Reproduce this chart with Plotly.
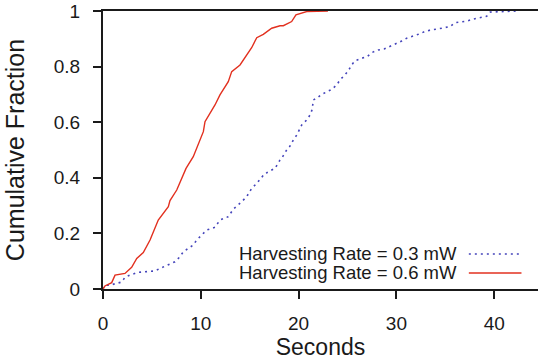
import plotly.graph_objects as go

# Harvesting Rate = 0.6 mW (red, solid)
red_x = [0, 0.2, 0.89, 1.23, 2.25, 2.93, 3.45, 4.12, 4.81, 5.14, 5.65, 6.68, 6.85, 7.54,
         8.21, 8.49, 9.23, 9.92, 10.26, 10.43, 10.94, 11.45, 11.96, 12.81, 13.16, 14.01,
         15.20, 15.72, 16.39, 17.25, 18.10, 18.44, 19.29, 19.73, 20.83, 23.0]
red_y = [0, 0.011, 0.023, 0.050, 0.056, 0.078, 0.110, 0.131, 0.176, 0.206, 0.248, 0.296,
         0.318, 0.356, 0.410, 0.434, 0.476, 0.536, 0.566, 0.602, 0.632, 0.662, 0.698,
         0.746, 0.782, 0.806, 0.868, 0.904, 0.916, 0.938, 0.947, 0.947, 0.962, 0.986,
         0.998, 1.0]

# Harvesting Rate = 0.3 mW (blue, dotted)
blue_x = [0, 0.2, 0.72, 1.23, 1.91, 2.25, 2.76, 3.61, 4.29, 4.98, 5.32, 5.83, 7.02, 7.36,
          7.87, 8.21, 8.72, 9.23, 9.58, 10.09, 10.60, 11.45, 11.96, 12.81, 13.32, 14.18,
          14.69, 15.20, 15.72, 16.56, 16.74, 17.41, 17.59, 18.10, 18.27, 18.78, 19.12,
          19.46, 19.81, 20.32, 20.83, 21.17, 21.40, 21.50, 21.85, 22.36, 22.87, 23.38,
          23.90, 24.23, 24.74, 25.08, 25.43, 25.77, 26.45, 27.02, 27.47, 28.15, 28.73,
          29.35, 29.86, 30.54, 31.05, 31.67, 32.24, 32.92, 33.51, 34.18, 34.87, 35.48,
          35.99, 36.68, 37.25, 37.86, 38.55, 39.23, 39.60, 42.3]
blue_y = [0, 0.013, 0.014, 0.018, 0.025, 0.042, 0.050, 0.060, 0.062, 0.063, 0.065, 0.074,
          0.092, 0.098, 0.116, 0.134, 0.146, 0.158, 0.176, 0.194, 0.212, 0.222, 0.248,
          0.260, 0.287, 0.314, 0.332, 0.362, 0.380, 0.416, 0.418, 0.431, 0.434, 0.464,
          0.470, 0.500, 0.514, 0.536, 0.554, 0.590, 0.608, 0.626, 0.647, 0.680, 0.686,
          0.700, 0.710, 0.718, 0.734, 0.752, 0.770, 0.785, 0.806, 0.821, 0.830, 0.836,
          0.850, 0.860, 0.863, 0.872, 0.881, 0.892, 0.902, 0.908, 0.916, 0.926, 0.932,
          0.935, 0.939, 0.944, 0.958, 0.962, 0.964, 0.971, 0.976, 0.981, 0.996, 1.0]

x_ticks = [0, 10, 20, 30, 40]
y_ticks = [0, 0.2, 0.4, 0.6, 0.8, 1]
legend_labels = ["Harvesting Rate = 0.3 mW", "Harvesting Rate = 0.6 mW"]

BLUE = "#4444bb"
RED = "#e2301f"
FONT = "Liberation Sans, Arial, Helvetica, sans-serif"
INK = "#1a1a1a"

fig = go.Figure()
fig.add_trace(go.Scatter(x=blue_x, y=blue_y, mode="lines",
                         line=dict(color=BLUE, width=1.6, dash="2px,4px"),
                         name=legend_labels[0], showlegend=False))
fig.add_trace(go.Scatter(x=red_x, y=red_y, mode="lines",
                         line=dict(color=RED, width=1.4),
                         name=legend_labels[1], showlegend=False))

# custom legend: text on left, line sample on right
rows = [(0.126, BLUE, "2px,4px", 1.6), (0.0576, RED, "solid", 1.6)]
for label, (yp, col, dash, w) in zip(legend_labels, rows):
    fig.add_annotation(xref="paper", yref="paper", x=0.818, y=yp, text=label,
                       showarrow=False, xanchor="right", yanchor="middle",
                       font=dict(family=FONT, size=18.5, color=INK))
    fig.add_shape(type="line", xref="paper", yref="paper", x0=0.841, x1=0.962,
                  y0=yp, y1=yp, line=dict(color=col, width=w, dash=dash))

fig.update_layout(
    width=538, height=361,
    margin=dict(l=103, r=0, t=11, b=72),
    paper_bgcolor="white", plot_bgcolor="white",
    font=dict(family=FONT, color=INK, size=18),
)
fig.update_xaxes(range=[0, 44.48], tickvals=x_ticks, ticks="outside", ticklen=8,
                 tickwidth=2, tickcolor=INK, showline=True, linecolor=INK, linewidth=2,
                 mirror=True, showgrid=False, zeroline=False, automargin=False,
                 tickfont=dict(size=19), ticklabelstandoff=8,
                 title=dict(text="Seconds", font=dict(size=23), standoff=5))
fig.update_yaxes(range=[0, 1], tickvals=y_ticks, ticks="outside", ticklen=8,
                 tickwidth=2, tickcolor=INK, showline=True, linecolor=INK, linewidth=2,
                 showgrid=False, zeroline=False, automargin=False,
                 tickfont=dict(size=19), ticklabelstandoff=9,
                 title=dict(text="Cumulative Fraction", font=dict(size=25), standoff=22))

fig.write_html("out.html",
               config={"displayModeBar": False},
               post_script="document.body.style.margin='0px';"
                           "document.body.style.overflow='hidden';")
